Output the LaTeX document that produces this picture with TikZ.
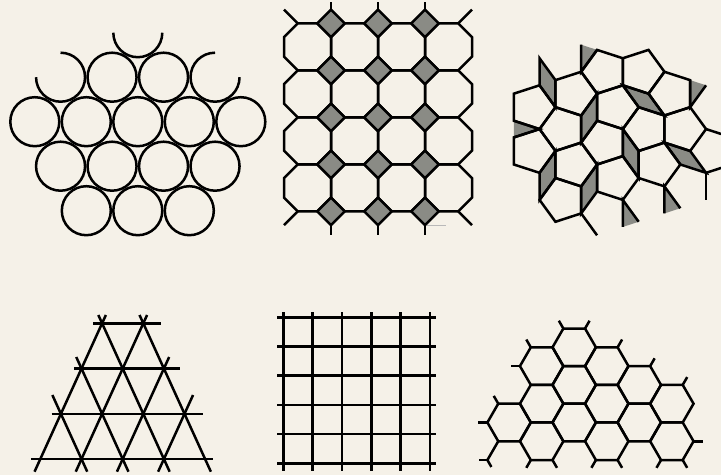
\documentclass[tikz,border=0pt]{standalone}
\usetikzlibrary{calc}
\definecolor{bgc}{RGB}{245,241,232}
\definecolor{tileg}{RGB}{138,139,133}
\tikzset{
  ln/.style={line width=2.5pt, draw=black},
  stubln/.style={line width=2.5pt, draw=black},
}
\begin{document}
\begin{tikzpicture}[x=1pt,y=-1pt]
\fill[bgc] (0,0) rectangle (721,475);
\useasboundingbox (0,0) rectangle (721,475);

% ---------- Panel 1 : circle packing ----------
\foreach \x in {34.8,86.3,137.8,189.3,240.8} \draw[ln] (\x,121.7) circle[radius=24.5];
\foreach \x in {60.55,112.05,163.55,215.05} \draw[ln] (\x,166.2) circle[radius=24.5];
\foreach \x in {86.3,137.8,189.3} \draw[ln] (\x,210.7) circle[radius=24.5];
\foreach \x in {112.05,163.55} \draw[ln] (\x,77.2) circle[radius=24.5];
\draw[ln] (60.55,52.7) arc[start angle=270,end angle=540,radius=24.5];
\draw[ln] (239.55,77.2) arc[start angle=0,end angle=270,radius=24.5];
\draw[ln] (162.3,32.7) arc[start angle=0,end angle=180,radius=24.5];

% ---------- Panel 2 : octagon-square tiling ----------
\foreach \i in {0,...,3} \foreach \j in {0,...,3} {
  \draw[ln, shift={(307.5+47*\i,46.8+47*\j)}]
    (-9.735,-23.5) -- (9.735,-23.5) -- (23.5,-9.735) -- (23.5,9.735) --
    (9.735,23.5) -- (-9.735,23.5) -- (-23.5,9.735) -- (-23.5,-9.735) -- cycle;
}
\foreach \i in {0,...,2} \foreach \j in {0,...,4} {
  \filldraw[ln, fill=tileg, shift={(331+47*\i,23.3+47*\j)}]
    (13.765,0) -- (0,13.765) -- (-13.765,0) -- (0,-13.765) -- cycle;
}
\foreach \x in {331,378,425} {
  \draw[stubln] (\x,9.535) -- (\x,1.5);
  \draw[stubln] (\x,225.065) -- (\x,235);
}
\draw[stubln] (297.765,23.3) -- (284,9.535);
\draw[stubln] (458.235,23.3) -- (472,9.535);
\draw[stubln] (297.765,211.3) -- (284,225.065);
\draw[stubln] (458.235,211.3) -- (472,225.065);
\draw[gray!55, line width=0.8pt] (427,225.5) -- (445.5,225.5);

% ---------- Panel 3 : pentagon / thin rhombus tiling ----------
\coordinate (vU) at (0,-27.05);
\coordinate (vA) at (25.727,-8.359);
\coordinate (vB) at (-25.727,-8.359);
\coordinate (vC) at (15.9,-21.884);
\coordinate (vD) at (-15.9,-21.884);
\coordinate (a1) at (622.8,85.3);
\coordinate (a2) at ($(a1)+(vU)$);
\coordinate (a3) at ($(a2)+(vA)$);
\coordinate (a4) at ($(a3)-(vD)$);
\coordinate (a5) at ($(a4)-(vC)$);
\coordinate (a6) at ($(a2)+(vB)$);
\coordinate (a7) at ($(a6)-(vC)$);
\coordinate (a8) at ($(a1)-(vA)$);
\coordinate (a9) at ($(a7)+(vU)$);
\coordinate (a10) at ($(a4)-(vB)$);
\coordinate (a11) at ($(a10)-(vU)$);
\coordinate (a12) at ($(a11)+(vC)$);
\coordinate (a13) at ($(a5)-(vD)$);
\coordinate (a14) at ($(a1)-(vD)$);
\coordinate (a15) at ($(a13)-(vU)$);
\coordinate (a16) at ($(a11)-(vD)$);
\coordinate (a17) at ($(a16)-(vC)$);
\coordinate (a18) at ($(a17)-(vD)$);
\coordinate (a19) at ($(a18)-(vU)$);
\coordinate (a20) at ($(a15)-(vD)$);
\coordinate (a21) at ($(a20)-(vC)$);
\coordinate (a22) at ($(a21)+(vB)$);
\coordinate (a23) at ($(a22)+(vU)$);
\coordinate (a24) at ($(a21)-(vU)$);
\coordinate (a25) at ($(a21)-(vD)$);
\coordinate (a26) at ($(a14)-(vC)$);
\coordinate (a27) at ($(a26)-(vU)$);
\coordinate (a28) at ($(a26)+(vB)$);
\coordinate (a29) at ($(a27)-(vA)$);
\coordinate (a30) at ($(a22)-(vC)$);
\coordinate (a31) at ($(a30)+(vB)$);
\coordinate (a32) at ($(a30)-(vU)$);
\coordinate (a33) at ($(a30)-(vD)$);
\coordinate (a34) at ($(a7)-(vA)$);
\coordinate (a35) at ($(a34)+(vD)$);
\coordinate (a36) at ($(a34)-(vU)$);
\coordinate (a37) at ($(a36)+(vD)$);
\coordinate (a38) at ($(a37)-(vA)$);
\coordinate (a39) at ($(a38)-(vU)$);
\coordinate (a40) at ($(a39)-(vB)$);
\coordinate (a41) at ($(a36)-(vB)$);
\coordinate (a42) at ($(a41)-(vU)$);
\coordinate (a43) at ($(a42)-(vA)$);
\coordinate (a44) at ($(a43)-(vC)$);
\coordinate (a45) at ($(a44)+(vB)$);
\coordinate (a46) at ($(a40)-(vA)$);
\coordinate (a47) at ($(a43)-(vU)$);
\coordinate (a48) at ($(a47)-(vC)$);
\coordinate (a49) at ($(a48)-(vD)$);
\coordinate (a50) at ($(a49)+(vA)$);
\coordinate (a51) at ($(a50)+(vU)$);
\coordinate (a52) at ($(a50)-(vD)$);
\coordinate (a53) at ($(a16)-(vB)$);
\coordinate (a54) at ($(a18)+(vA)$);

\fill[tileg] (a9)--(a7)--(a6)--cycle;
\fill[tileg] (a10)--(a11)--(a12)--cycle;
\fill[tileg] (a39)--(a40)--(a46)--cycle;
\fill[tileg] (a24)--(a21)--(a25)--cycle;
\fill[tileg] (a32)--(a30)--(a33)--cycle;
\foreach \pa/\pb/\pc/\pd in {a1/a5/a13/a14, a15/a17/a18/a20, a26/a23/a22/a27,
    a35/a34/a36/a37, a41/a8/a28/a42, a43/a47/a48/a44, a51/a29/a31/a50}
  \filldraw[ln, fill=tileg] (\pa)--(\pb)--(\pc)--(\pd)--cycle;
\foreach \pa/\pb/\pc/\pd/\pe in {a1/a2/a6/a7/a8, a1/a2/a3/a4/a5, a4/a10/a11/a13/a5,
    a13/a11/a16/a17/a15, a15/a20/a21/a22/a23, a14/a13/a15/a23/a26,
    a27/a22/a30/a31/a29, a37/a38/a39/a40/a36, a7/a34/a36/a41/a8,
    a36/a41/a42/a43/a40, a40/a43/a44/a45/a46, a47/a51/a50/a49/a48,
    a42/a29/a51/a47/a43, a28/a26/a27/a29/a42, a8/a1/a14/a26/a28}
  \draw[ln] (\pa)--(\pb)--(\pc)--(\pd)--(\pe)--cycle;
\draw[ln] (a9)--(a7)--(a6);
\draw[ln] (a10)--(a11)--(a12);
\draw[ln] (a39)--(a40)--(a46);
\draw[ln] (a24)--(a21)--(a25);
\draw[ln] (a32)--(a30)--(a33);
\draw[ln] (a16)--(a53);
\draw[ln] (a18)--(a54);
\draw[ln] (a18)--(a19);
\draw[ln] (a50)--(a52);

% ---------- Panel 4 : triangular lattice ----------
\draw[ln] (93.3,323.3) -- (160.7,323.3);
\draw[ln] (74.3,368.55) -- (180,368.55);
\draw[ln] (51.7,413.8) -- (202.7,413.8);
\draw[ln] (31,459.05) -- (212.7,459.05);
\draw[ln] (34.54,471.7) -- (105.88,315);
\draw[ln] (75.74,471.7) -- (147.08,315);
\draw[ln] (116.94,471.7) -- (169.16,357);
\draw[ln] (158.14,471.7) -- (193.06,395);
\draw[ln] (210.86,471.7) -- (139.52,315);
\draw[ln] (169.66,471.7) -- (98.32,315);
\draw[ln] (128.46,471.7) -- (76.24,357);
\draw[ln] (87.26,471.7) -- (52.34,395);

% ---------- Panel 5 : square grid ----------
\foreach \k in {0,...,5} {
  \draw[ln] (283.3+29.34*\k,312.3) -- (283.3+29.34*\k,470.7);
  \draw[ln] (277.3,317.3+29.2*\k) -- (435.7,317.3+29.2*\k);
}

% ---------- Panel 6 : honeycomb ----------
\foreach \c/\m in {0/0,-1/1,1/1,0/2,2/2,-1/3,1/3,3/3,-2/4,0/4,2/4,-1/5,1/5,3/5} {
  \draw[ln, shift={(574.2+32.55*\c,347.3+18.79*\m)}]
    (21.7,0) -- (10.85,18.79) -- (-10.85,18.79) -- (-21.7,0) --
    (-10.85,-18.79) -- (10.85,-18.79) -- cycle;
}
\draw[stubln] (563.35,328.51) -- (558.85,320.72);
\draw[stubln] (585.05,328.51) -- (589.55,320.72);
\draw[stubln] (530.8,347.3) -- (526.3,339.51);
\draw[stubln] (519.95,366.09) -- (510.95,366.09);
\draw[stubln] (617.6,347.3) -- (622.1,339.51);
\draw[stubln] (650.15,366.09) -- (654.65,358.3);
\draw[stubln] (682.7,384.88) -- (687.2,377.09);
\draw[stubln] (498.25,403.67) -- (493.75,395.88);
\draw[stubln] (487.4,422.46) -- (478.4,422.46);
\draw[stubln] (498.25,441.25) -- (487.4,460.04);
\draw[stubln] (487.4,460.04) -- (479.4,460.04);
\draw[stubln] (487.4,460.04) -- (491.4,466.97);
\draw[stubln] (530.8,460.04) -- (526.3,467.83);
\draw[stubln] (552.5,460.04) -- (557,467.83);
\draw[stubln] (595.9,460.04) -- (591.4,467.83);
\draw[stubln] (617.6,460.04) -- (622.1,467.83);
\draw[stubln] (661,460.04) -- (656.5,467.83);
\draw[stubln] (682.7,460.04) -- (687.2,467.83);
\draw[stubln] (693.55,441.25) -- (702.55,441.25);
\end{tikzpicture}
\end{document}
